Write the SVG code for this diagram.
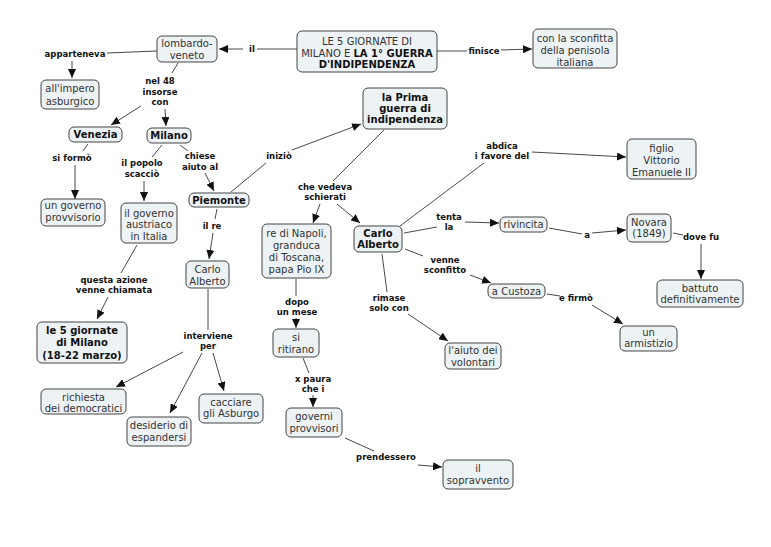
<svg xmlns="http://www.w3.org/2000/svg" width="771" height="547" viewBox="0 0 771 547">
<style>
.n rect{fill:#edf2f4;stroke:#444;stroke-width:1}
.n text{font-family:"DejaVu Sans",Verdana,sans-serif;font-size:10px;fill:#333;text-anchor:middle}
.n text.b{font-weight:bold;fill:#111}
.c line{stroke:#333;stroke-width:0.9}
.c line.a{marker-end:url(#ah)}
.c text{font-family:"DejaVu Sans",Verdana,sans-serif;font-size:8.5px;font-weight:bold;fill:#111;text-anchor:middle}
</style>
<defs>
<marker id="ah" markerUnits="userSpaceOnUse" markerWidth="10" markerHeight="8" refX="9" refY="4" orient="auto">
<path d="M0,0 L9,4 L0,8 z" fill="#111"/>
</marker>
</defs>
<rect width="771" height="547" fill="#fff"/>
<g class="c" id="connectors">
<line x1="297" y1="49" x2="257" y2="49"/><text x="252" y="52">il</text><line class="a" x1="243" y1="49" x2="219" y2="49"/>
<line x1="437" y1="51" x2="467" y2="51"/><text x="484" y="54">finisce</text><line class="a" x1="501" y1="50" x2="532" y2="49"/>
<line x1="157" y1="51" x2="107" y2="53"/><text x="75" y="57">apparteneva</text><line class="a" x1="72" y1="61" x2="72" y2="78"/>
<line x1="178" y1="63" x2="172" y2="73"/><text x="160" y="84">nel 48</text><text x="160" y="95">insorse</text><text x="160" y="105">con</text>
<line class="a" x1="141" y1="106" x2="111" y2="125"/><line class="a" x1="165" y1="109" x2="166" y2="126"/>
<line x1="88" y1="144" x2="83" y2="151"/><text x="72" y="161">si formò</text><line class="a" x1="75" y1="165" x2="75" y2="199"/>
<line x1="162" y1="145" x2="152" y2="157"/><text x="142" y="166">il popolo</text><text x="142" y="177">scacciò</text><line class="a" x1="144" y1="181" x2="144" y2="201"/>
<line x1="180" y1="145" x2="188" y2="151"/><text x="200" y="159">chiese</text><text x="200" y="170">aiuto al</text><line class="a" x1="205" y1="173" x2="214" y2="191"/>
<line x1="137" y1="245" x2="121" y2="273"/><text x="114" y="283">questa azione</text><text x="114" y="293">venne chiamata</text><line class="a" x1="108" y1="297" x2="97" y2="319"/>
<line x1="217" y1="209" x2="215" y2="219"/><text x="212" y="229">il re</text><line class="a" x1="213" y1="233" x2="209" y2="259"/>
<line x1="231" y1="192" x2="266" y2="163"/><text x="279" y="159">iniziò</text><line class="a" x1="292" y1="150" x2="361" y2="124"/>
<line x1="208" y1="289" x2="208" y2="330"/><text x="208" y="339">interviene</text><text x="208" y="349">per</text>
<line class="a" x1="183" y1="352" x2="116" y2="387"/><line class="a" x1="202" y1="353" x2="170" y2="413"/><line class="a" x1="213" y1="353" x2="224" y2="391"/>
<line x1="384" y1="130" x2="333" y2="181"/><text x="325" y="190">che vedeva</text><text x="325" y="200">schierati</text>
<line class="a" x1="320" y1="204" x2="313" y2="223"/><line class="a" x1="337" y1="204" x2="360" y2="223"/>
<line x1="296" y1="279" x2="296" y2="296"/><text x="297" y="305">dopo</text><text x="297" y="315">un mese</text><line class="a" x1="296" y1="318" x2="296" y2="328"/>
<line x1="303" y1="358" x2="309" y2="373"/><text x="313" y="382">x paura</text><text x="313" y="392">che i</text><line class="a" x1="313" y1="395" x2="313" y2="407"/>
<line x1="345" y1="438" x2="374" y2="451"/><text x="386" y="460">prendessero</text><line class="a" x1="418" y1="465" x2="442" y2="467"/>
<line x1="400" y1="226" x2="484" y2="163"/><text x="502" y="149">abdica</text><text x="502" y="159">i favore del</text><line class="a" x1="532" y1="152" x2="626" y2="157"/>
<line x1="404" y1="233" x2="437" y2="227"/><text x="449" y="220">tenta</text><text x="449" y="230">la</text><line class="a" x1="465" y1="222" x2="499" y2="223"/>
<line x1="549" y1="228" x2="582" y2="234"/><text x="587" y="238">a</text><line class="a" x1="592" y1="233" x2="626" y2="230"/>
<line x1="673" y1="233" x2="683" y2="235"/><text x="701" y="240">dove fu</text><line class="a" x1="701" y1="244" x2="701" y2="279"/>
<line x1="405" y1="249" x2="423" y2="256"/><text x="445" y="263">venne</text><text x="445" y="273">sconfitto</text><line class="a" x1="470" y1="275" x2="491" y2="283"/>
<line x1="547" y1="294" x2="560" y2="296"/><text x="576" y="301">e firmò</text><line class="a" x1="592" y1="305" x2="623" y2="324"/>
<line x1="382" y1="254" x2="387" y2="292"/><text x="389" y="301">rimase</text><text x="389" y="311">solo con</text><line class="a" x1="408" y1="314" x2="448" y2="341"/>
</g>
<g class="n" id="title"><rect x="297" y="31" width="140" height="41" rx="5"/><text x="367" y="44.5">LE 5 GIORNATE DI</text><text x="367" y="56.5">MILANO E <tspan font-weight="bold" fill="#111">LA 1° GUERRA</tspan></text><text class="b" x="367" y="67.5">D'INDIPENDENZA</text></g>
<g class="n" id="sconfitta"><rect x="533" y="29" width="84" height="39" rx="5"/><text x="575" y="41.5">con la sconfitta</text><text x="575" y="53.5">della penisola</text><text x="575" y="65.5">italiana</text></g>
<g class="n" id="lombardo"><rect x="157" y="36" width="60" height="26" rx="5"/><text x="187" y="46.5">lombardo-</text><text x="187" y="58.5">veneto</text></g>
<g class="n" id="impero"><rect x="41" y="80" width="58" height="29" rx="5"/><text x="70" y="91.5">all'impero</text><text x="70" y="104.5">asburgico</text></g>
<g class="n" id="venezia"><rect x="69" y="127" width="53" height="15" rx="5"/><text class="b" x="95.5" y="138">Venezia</text></g>
<g class="n" id="milano"><rect x="147" y="128" width="44" height="15" rx="5"/><text class="b" x="169" y="139">Milano</text></g>
<g class="n" id="govprov"><rect x="41" y="199" width="64" height="27" rx="5"/><text x="73" y="208.5">un governo</text><text x="73" y="220.5">provvisorio</text></g>
<g class="n" id="govaust"><rect x="121" y="203" width="56" height="40" rx="5"/><text x="149" y="216.5">il governo</text><text x="149" y="228">austriaco</text><text x="149" y="240">in Italia</text></g>
<g class="n" id="piemonte"><rect x="189" y="193" width="60" height="14" rx="5"/><text class="b" x="219" y="203.5">Piemonte</text></g>
<g class="n" id="giornate"><rect x="37" y="322" width="90" height="41" rx="5"/><text class="b" x="82" y="333.5">le 5 giornate</text><text class="b" x="82" y="346">di Milano</text><text class="b" x="82" y="358.5">(18-22 marzo)</text></g>
<g class="n" id="carlo1"><rect x="186" y="261" width="43" height="27" rx="5"/><text x="207.5" y="272.5">Carlo</text><text x="207.5" y="284.5">Alberto</text></g>
<g class="n" id="richiesta"><rect x="41" y="389" width="85" height="25" rx="5"/><text x="83.5" y="400.5">richiesta</text><text x="83.5" y="412">dei democratici</text></g>
<g class="n" id="desiderio"><rect x="127" y="417" width="64" height="29" rx="5"/><text x="159" y="428.5">desiderio di</text><text x="159" y="440.5">espandersi</text></g>
<g class="n" id="cacciare"><rect x="199" y="394" width="64" height="29" rx="5"/><text x="231" y="405.5">cacciare</text><text x="231" y="417">gli Asburgo</text></g>
<g class="n" id="prima"><rect x="363" y="88" width="84" height="41" rx="5"/><text class="b" x="405" y="100.5">la Prima</text><text class="b" x="405" y="111.5">guerra di</text><text class="b" x="405" y="122.5">indipendenza</text></g>
<g class="n" id="napoli"><rect x="262" y="224" width="69" height="54" rx="5"/><text x="296.5" y="236.5">re di Napoli,</text><text x="296.5" y="248.5">granduca</text><text x="296.5" y="260.5">di Toscana,</text><text x="296.5" y="272.5">papa Pio IX</text></g>
<g class="n" id="ritirano"><rect x="273" y="329" width="46" height="28" rx="5"/><text x="296" y="340.5">si</text><text x="296" y="352.5">ritirano</text></g>
<g class="n" id="governi"><rect x="286" y="408" width="56" height="29" rx="5"/><text x="314" y="419.5">governi</text><text x="314" y="431.5">provvisori</text></g>
<g class="n" id="sopravvento"><rect x="443" y="460" width="70" height="29" rx="5"/><text x="478" y="471.5">il</text><text x="478" y="483.5">sopravvento</text></g>
<g class="n" id="carlo2"><rect x="354" y="226" width="48" height="26" rx="5"/><text class="b" x="378" y="236.5">Carlo</text><text class="b" x="378" y="248">Alberto</text></g>
<g class="n" id="aiuto"><rect x="445" y="343" width="56" height="26" rx="5"/><text x="473" y="353.5">l'aiuto dei</text><text x="473" y="365.5">volontari</text></g>
<g class="n" id="figlio"><rect x="627" y="139" width="69" height="40" rx="5"/><text x="661.5" y="151.5">figlio</text><text x="661.5" y="163.5">Vittorio</text><text x="661.5" y="175.5">Emanuele II</text></g>
<g class="n" id="rivincita"><rect x="500" y="217" width="47" height="15" rx="5"/><text x="523.5" y="227.5">rivincita</text></g>
<g class="n" id="novara"><rect x="627" y="214" width="44" height="28" rx="5"/><text x="649" y="225.5">Novara</text><text x="649" y="237">(1849)</text></g>
<g class="n" id="battuto"><rect x="657" y="280" width="86" height="27" rx="5"/><text x="700" y="291.5">battuto</text><text x="700" y="302.5">definitivamente</text></g>
<g class="n" id="custoza"><rect x="488" y="284" width="57" height="14" rx="5"/><text x="516.5" y="295">a Custoza</text></g>
<g class="n" id="armistizio"><rect x="620" y="326" width="57" height="25" rx="5"/><text x="648.5" y="335.5">un</text><text x="648.5" y="347">armistizio</text></g>
</svg>
